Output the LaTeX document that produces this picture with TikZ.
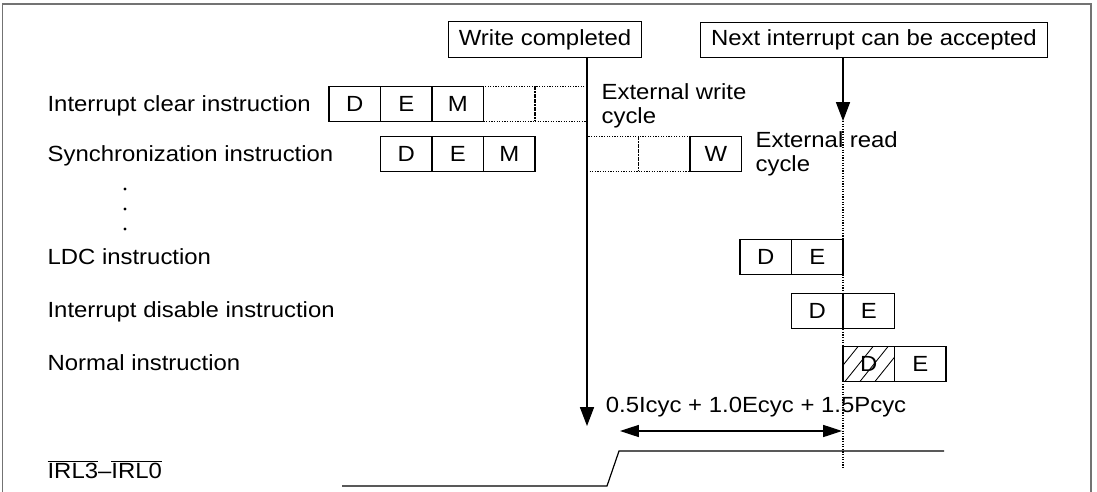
\documentclass[tikz,border=0pt]{standalone}
\usepackage{fontspec}
\setmainfont{Liberation Sans}[FakeStretch=1.09]
\usetikzlibrary{arrows.meta,positioning}

\begin{document}
\begin{tikzpicture}[
  x=0.025cm, y=-0.025cm,
  font=\fontsize{15.6}{16.7}\selectfont,
  line width=0.85pt,
  frame/.style={black!55, line width=1.4pt},
  tip/.style={-{Triangle[length=0.47cm, width=0.35cm]}},
  both/.style={{Triangle[length=0.47cm, width=0.3cm]}-{Triangle[length=0.47cm, width=0.3cm]}},
  cell/.style={draw, minimum width=1.2875cm, minimum height=0.87cm, inner sep=0pt, outer sep=0pt},
  dcell/.style={cell, densely dotted},
  hcell/.style={cell, path picture={
      \foreach \k in {0,...,3}
        \draw[line width=0.6pt] ([xshift=\k*0.375cm-0.325cm]path picture bounding box.south west) -- ++(0.7cm,0.87cm);
    }},
  note/.style={draw, inner xsep=0.26cm, minimum height=0.88cm},
  lbl/.style={anchor=west, inner sep=0pt, text height=11.2pt, text depth=0pt},
  txt/.style={anchor=west, align=left, inner sep=0pt},
  dot/.style={circle, fill, inner sep=0pt, minimum size=2.4pt}
]
\useasboundingbox (0,0) rectangle (1097,492);
\draw[frame] (2.5,492) -- (2.5,4) -- (1091,4) -- (1091,492);

% markers at the top
\node[note] (wc) at (545,39.5) {Write completed};
\node[note] (na) at (874,40) {Next interrupt can be accepted};

% row labels
\node[lbl] (lic) at (47,104) {Interrupt clear instruction};
\node[lbl] (lsy) at (47,154) {Synchronization instruction};
\node[dot] (d1) at (125,189) {};
\node[dot] (d2) at (125,209) {};
\node[dot] (d3) at (125,229) {};
\node[lbl] (lld) at (47,257) {LDC instruction};
\node[lbl] (ldi) at (47,310) {Interrupt disable instruction};
\node[lbl] (lno) at (47,363) {Normal instruction};
\node[lbl] (lirl) at (47,471) {$\overline{\mbox{IRL3}}$–$\overline{\mbox{IRL0}}$};

% interrupt clear
\node[cell] (icD) at (354.75,104) {D};
\node[cell, right=0pt of icD] (icE) {E};
\node[cell, right=0pt of icE] (icM) {M};
\node[dcell, right=0pt of icM] (icX1) {};
\node[dcell, right=0pt of icX1] (icX2) {};
\node[txt] (ewc) at (601,106) {External write\\cycle};

% synchronization
\node[cell] (syD) at (406.25,154) {D};
\node[cell, right=0pt of syD] (syE) {E};
\node[cell, right=0pt of syE] (syM) {M};
\node[dcell] (syX1) at (612.75,154) {};
\node[dcell, right=0pt of syX1] (syX2) {};
\node[cell, right=0pt of syX2] (syW) {W};
\node[txt] (erc) at (755,154) {External read\\cycle};

% LDC, disable, normal
\node[cell] (ldD) at (765.75,257) {D};
\node[cell, right=0pt of ldD] (ldE) {E};
\node[cell] (diD) at (817.25,311) {D};
\node[cell, right=0pt of diD] (diE) {E};
\node[hcell] (noD) at (868.75,364) {D};
\node[cell, right=0pt of noD] (noE) {E};

% arrows
\coordinate (wtip) at (587,426);
\draw[tip] (wc.south -| wtip) -- (wtip);
\coordinate (ntip) at (843,121);
\coordinate (nend) at (843,468);
\draw[tip] (na.south -| ntip) -- (ntip);
\draw[densely dotted] (ntip) -- (nend);

\node[lbl, anchor=center] (fml) at (756,405) {0.5Icyc + 1.0Ecyc + 1.5Pcyc};
\coordinate (dl) at (620,431);
\coordinate (dr) at (842,431);
\draw[both] (dl) -- (dr);

% IRL signal
\coordinate (s0) at (342,486);
\coordinate (s1) at (607,486);
\coordinate (s2) at (619,451);
\coordinate (s3) at (944,451);
\draw (s0) -- (s1) -- (s2) -- (s3);
\end{tikzpicture}
\end{document}
